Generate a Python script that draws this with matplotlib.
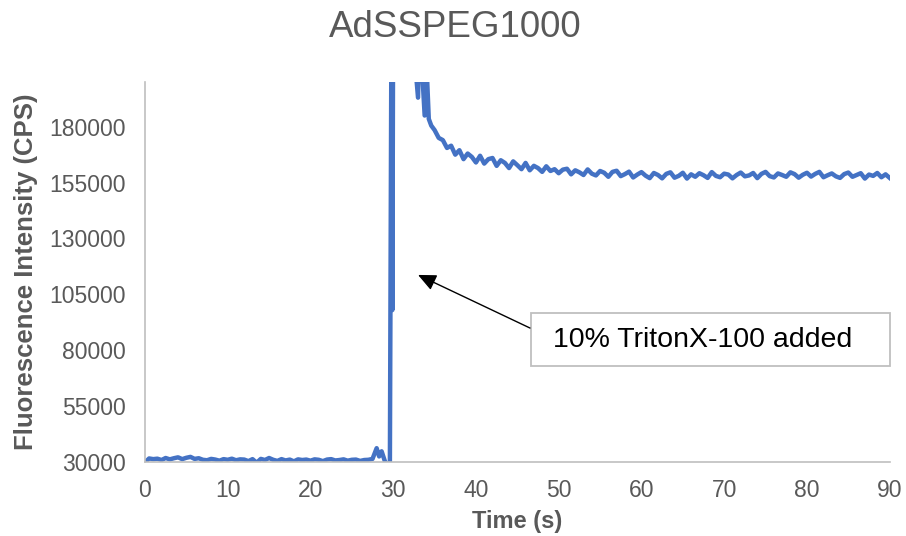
import matplotlib
matplotlib.use("Agg")
import matplotlib.pyplot as plt
from matplotlib.patches import Rectangle

plt.rcParams['font.family'] = ['Liberation Sans', 'DejaVu Sans']

# Fluorescence trace: time (s) and intensity (CPS)
baseline_time = [0.0, 0.5, 1.0, 1.5, 2.0, 2.5, 3.0, 3.5, 4.0, 4.5, 5.0, 5.5, 6.0, 6.5, 7.0, 7.5,
                 8.0, 8.5, 9.0, 9.5, 10.0, 10.5, 11.0, 11.5, 12.0, 12.5, 13.0, 13.5, 14.0, 14.5,
                 15.0, 15.5, 16.0, 16.5, 17.0, 17.5, 18.0, 18.5, 19.0, 19.5, 20.0, 20.5, 21.0,
                 21.5, 22.0, 22.5, 23.0, 23.5, 24.0, 24.5, 25.0, 25.5, 26.0, 26.5, 27.0, 27.5,
                 28.0, 28.3, 28.6, 29.0, 29.3, 29.6]
baseline_cps = [29800, 31600, 31300, 31500, 30900, 31800, 31200, 31700, 32100, 31300, 31900,
                32300, 31400, 31700, 31000, 30800, 31400, 31100, 30600, 31300, 31000, 31500,
                30800, 31200, 31100, 30400, 31300, 29700, 31400, 30900, 31800, 31000, 30500,
                31300, 30700, 31100, 30300, 31200, 30900, 31100, 30600, 31200, 31000, 30400,
                31100, 31300, 30700, 30900, 31200, 30600, 31000, 31100, 30500, 30900, 31000,
                31400, 36200, 32500, 34800, 30300, 28600, 29300]

spike_time = [29.8, 29.9, 30.0, 30.5, 31.0, 31.5, 32.0, 32.5, 33.0, 33.2, 33.5, 33.8, 34.0]
spike_cps = [240000, 98000, 240000, 260000, 250000, 240000, 230000, 215000, 193000, 225000,
             205000, 185000, 210000]

decay_time = [34.3, 34.6, 35.0, 35.5, 36.0, 36.5, 37.0, 37.5, 38.0, 38.5, 39.0, 39.5, 40.0,
              40.5, 41.0, 41.5, 42.0, 42.5, 43.0, 43.5, 44.0, 44.5, 45.0, 45.5, 46.0, 46.5,
              47.0, 47.5, 48.0, 48.5, 49.0, 49.5, 50.0, 50.5, 51.0, 51.5, 52.0, 52.5, 53.0,
              53.5, 54.0, 54.5, 55.0, 55.5, 56.0, 56.5, 57.0, 57.5, 58.0, 58.5, 59.0, 59.5,
              60.0, 60.5, 61.0, 61.5, 62.0, 62.5, 63.0, 63.5, 64.0, 64.5, 65.0, 65.5, 66.0,
              66.5, 67.0, 67.5, 68.0, 68.5, 69.0, 69.5, 70.0, 70.5, 71.0, 71.5, 72.0, 72.5,
              73.0, 73.5, 74.0, 74.5, 75.0, 75.5, 76.0, 76.5, 77.0, 77.5, 78.0, 78.5, 79.0,
              79.5, 80.0, 80.5, 81.0, 81.5, 82.0, 82.5, 83.0, 83.5, 84.0, 84.5, 85.0, 85.5,
              86.0, 86.5, 87.0, 87.5, 88.0, 88.5, 89.0, 89.5, 90.0]
decay_cps = [183500, 180500, 178500, 175000, 174000, 170500, 171500, 167500, 169500, 165500,
             168000, 166500, 164000, 167000, 163500, 165500, 166000, 162500, 165000, 163800,
             161500, 164500, 162800, 161000, 163800, 160500, 162500, 161500, 159800, 162300,
             160200, 161000, 159200, 160800, 161200, 158700, 160500, 159600, 158400, 160900,
             159000, 158200, 160200, 159400, 157600, 159800, 160300, 157900, 158800, 159900,
             157300, 158600, 159700, 158100, 157000, 159300, 158400, 156900, 158900, 159600,
             157200, 158000, 159400, 156800, 158700, 157600, 159200, 158300, 157100, 159700,
             158000, 157400, 159000, 158600, 156900, 158400, 159500, 157800, 158200, 159300,
             157000, 158900, 159800, 157900, 157300, 159100, 158400, 157600, 159600, 158800,
             157200, 158500, 159400, 157700, 158900, 159800, 157400, 158300, 159100, 157800,
             157100, 158800, 159500, 157600, 158400, 159200, 156800, 158600, 158000, 159300,
             157400, 158700, 157100]

time_s = baseline_time + spike_time + decay_time
intensity = baseline_cps + spike_cps + decay_cps

x_ticks = [0, 10, 20, 30, 40, 50, 60, 70, 80, 90]
y_ticks = [30000, 55000, 80000, 105000, 130000, 155000, 180000]

grey = '#595959'
axis_grey = '#BFBFBF'

fig = plt.figure(figsize=(9.06, 5.36), dpi=100)
ax = fig.add_axes([0.160, 0.138, 0.822, 0.709])

ax.plot(time_s, intensity, color='#4472C4', linewidth=3.2, solid_joinstyle='round')

ax.set_xlim(0, 90)
ax.set_ylim(30000, 200000)
ax.set_xticks(x_ticks)
ax.set_yticks(y_ticks)
ax.tick_params(length=0, labelsize=16.5, colors=grey)
ax.tick_params(axis='y', pad=14)
ax.tick_params(axis='x', pad=12)

for side in ('top', 'right'):
    ax.spines[side].set_visible(False)
for side in ('left', 'bottom'):
    ax.spines[side].set_color(axis_grey)
    ax.spines[side].set_linewidth(1.2)

ax.set_xlabel('Time (s)', fontsize=17, fontweight='bold', color=grey, labelpad=6)
ax.set_ylabel('Fluorescence Intensity (CPS)', fontsize=18.5, fontweight='bold', color=grey,
              labelpad=8)
fig.text(0.502, 0.948, 'AdSSPEG1000', fontsize=26.5, color=grey, ha='center', va='center')

# Annotation box and arrow pointing at the detergent addition
box = Rectangle((0.518, 0.2526), 0.482, 0.1394, transform=ax.transAxes,
                facecolor='white', edgecolor=axis_grey, linewidth=1.3, clip_on=False, zorder=4)
ax.add_patch(box)
ax.text(0.548, 0.321, '10% TritonX-100 added', transform=ax.transAxes, fontsize=20.5,
        color='black', ha='left', va='center', zorder=5)
ax.annotate('', xy=(33.0, 113700), xycoords='data',
            xytext=(0.517, 0.3526), textcoords='axes fraction',
            arrowprops=dict(arrowstyle='-|>,head_length=1.1,head_width=0.5', color='black',
                            linewidth=1.0, shrinkA=0, shrinkB=0), zorder=5)

fig.savefig('out.png', dpi=100)
